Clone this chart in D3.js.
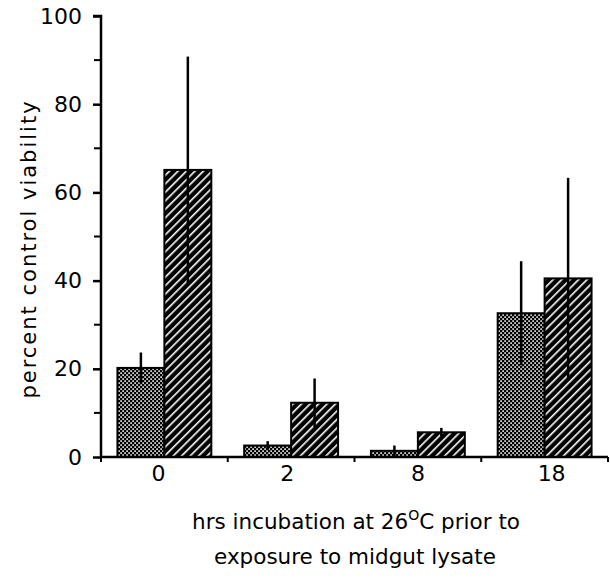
<!DOCTYPE html>
<html>
<head>
<meta charset="utf-8">
<script src="https://cdn.jsdelivr.net/npm/d3@7"></script>
<style>
  html, body { margin: 0; padding: 0; background: #fff; }
  text { font-family: "DejaVu Sans", Arial, Helvetica, sans-serif; fill: #000; }
</style>
</head>
<body>
<svg id="chart" width="610" height="578"></svg>
<script>
const categories = ["0", "2", "8", "18"];
const seriesNames = ["dotted", "hatched"];
const dottedValues = [20.2, 2.6, 1.4, 32.6];
const dottedErrors = [3.5, 1.0, 1.2, 11.8];
const hatchedValues = [65.1, 12.3, 5.6, 40.5];
const hatchedErrors = [25.7, 5.5, 1.0, 22.8];
const yTickValues = [0, 20, 40, 60, 80, 100];
const yMinorTicks = [10, 30, 50, 70, 90];
const yLabel = "percent control viability";
const xLabelLine2 = "exposure to midgut lysate";

const svg = d3.select("#chart");
const mLeft = 101, mRight = 608, mTop = 16, mBottom = 457;
const FONT = "'DejaVu Sans', Arial, sans-serif";

const defs = svg.append("defs");
const pd = defs.append("pattern").attr("id", "dots")
  .attr("patternUnits", "userSpaceOnUse").attr("width", 4).attr("height", 4);
pd.append("rect").attr("width", 4).attr("height", 4).attr("fill", "#000");
pd.append("rect").attr("x", 0.3).attr("y", 0.3).attr("width", 1.6).attr("height", 1.6).attr("fill", "#fff");
pd.append("rect").attr("x", 2.3).attr("y", 2.3).attr("width", 1.6).attr("height", 1.6).attr("fill", "#fff");

const ph = defs.append("pattern").attr("id", "hatch")
  .attr("patternUnits", "userSpaceOnUse").attr("width", 6).attr("height", 6)
  .attr("patternTransform", "rotate(45)");
ph.append("rect").attr("width", 6).attr("height", 6).attr("fill", "#000");
ph.append("rect").attr("x", 0).attr("y", 0).attr("width", 1.6).attr("height", 6).attr("fill", "#fff");

const y = d3.scaleLinear().domain([0, 100]).range([mBottom, mTop]);
const x = d3.scaleBand().domain(categories).range([mLeft, mRight]).padding(0);
const xs = d3.scaleBand().domain(seriesNames).range([0, x.bandwidth()])
  .paddingInner(0).paddingOuter(0.35);

const data = [];
categories.forEach((c, i) => {
  data.push({cat: c, s: "dotted", v: dottedValues[i], e: dottedErrors[i]});
  data.push({cat: c, s: "hatched", v: hatchedValues[i], e: hatchedErrors[i]});
});

const g = svg.append("g");
g.selectAll("rect.bar").data(data).join("rect").attr("class", "bar")
  .attr("x", d => x(d.cat) + xs(d.s))
  .attr("y", d => y(d.v))
  .attr("width", xs.bandwidth())
  .attr("height", d => y(0) - y(d.v))
  .attr("fill", d => d.s === "dotted" ? "url(#dots)" : "url(#hatch)")
  .attr("stroke", "#000").attr("stroke-width", 2);

g.selectAll("line.err").data(data).join("line").attr("class", "err")
  .attr("x1", d => x(d.cat) + xs(d.s) + xs.bandwidth() / 2)
  .attr("x2", d => x(d.cat) + xs(d.s) + xs.bandwidth() / 2)
  .attr("y1", d => y(d.v + d.e))
  .attr("y2", d => y(Math.max(0, d.v - d.e)))
  .attr("stroke", "#000").attr("stroke-width", 2.5);

// y axis
const yAxis = svg.append("g").attr("transform", `translate(${mLeft},0)`)
  .call(d3.axisLeft(y).tickValues(yTickValues).tickSize(8).tickPadding(11));
yAxis.select(".domain").attr("d", `M-8,${y(100)}H0V${y(0)}`).attr("stroke-width", 2.5);
yAxis.selectAll(".tick line").attr("stroke-width", 2.5);
yAxis.selectAll(".tick text").style("font-size", "22px").style("font-family", FONT);
svg.append("g").attr("transform", `translate(${mLeft},0)`)
  .selectAll("line").data(yMinorTicks).join("line")
  .attr("x1", -7).attr("x2", 0).attr("y1", d => y(d)).attr("y2", d => y(d))
  .attr("stroke", "#000").attr("stroke-width", 2);

// x axis
const xAxisG = svg.append("g").attr("transform", `translate(0,${mBottom})`);
xAxisG.append("line").attr("x1", mLeft).attr("x2", mRight).attr("y1", 0).attr("y2", 0)
  .attr("stroke", "#000").attr("stroke-width", 2.5);
const bounds = categories.map(c => x(c)).concat([x(categories[categories.length - 1]) + x.bandwidth()]);
xAxisG.selectAll("line.xt").data(bounds).join("line").attr("class", "xt")
  .attr("x1", d => d).attr("x2", d => d).attr("y1", 0).attr("y2", 5)
  .attr("stroke", "#000").attr("stroke-width", 2);
const labelOffset = [-6, -4, 0, 7];
xAxisG.selectAll("text.xl").data(categories).join("text").attr("class", "xl")
  .attr("x", (d, i) => x(d) + x.bandwidth() / 2 + labelOffset[i])
  .attr("y", 24).attr("text-anchor", "middle").style("font-size", "22px")
  .text(d => d);

// axis titles
svg.append("text").attr("transform", `translate(36,249) rotate(-90)`)
  .attr("text-anchor", "middle").style("font-size", "21px").style("letter-spacing", "2px")
  .text(yLabel);

const t1 = svg.append("text").attr("x", 356).attr("y", 529)
  .attr("text-anchor", "middle").style("font-size", "21.5px");
t1.append("tspan").text("hrs incubation at 26");
t1.append("tspan").attr("dy", -9).style("font-size", "14px").text("O");
t1.append("tspan").attr("dy", 9).text("C prior to");
svg.append("text").attr("x", 355).attr("y", 564)
  .attr("text-anchor", "middle").style("font-size", "21.5px").text(xLabelLine2);
</script>
</body>
</html>
